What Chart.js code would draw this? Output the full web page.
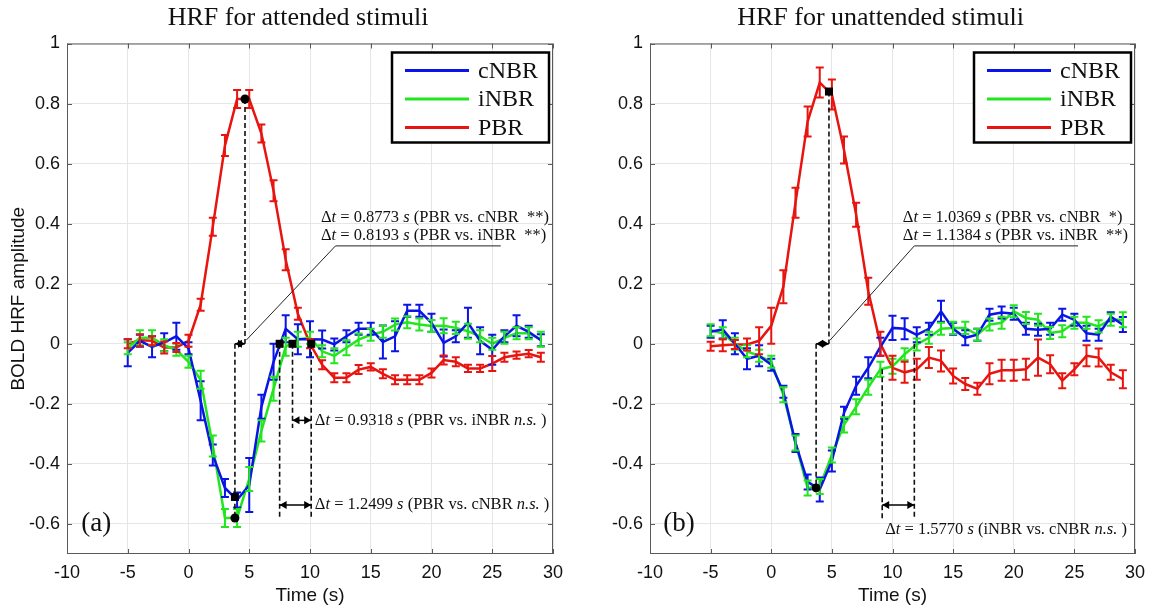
<!DOCTYPE html>
<html>
<head>
<meta charset="utf-8">
<script src="https://cdn.jsdelivr.net/npm/chart.js@4.4.1/dist/chart.umd.min.js"></script>
<style>
  body { margin: 0; background: #fff; width: 1157px; height: 609px; overflow: hidden; position: relative; }
  .panel { position: absolute; top: 0; height: 609px; }
  #pa { left: 0; width: 578px; }
  #pb { left: 578px; width: 579px; }
</style>
</head>
<body>
<div class="panel" id="pa"><canvas id="chartA"></canvas></div>
<div class="panel" id="pb"><canvas id="chartB"></canvas></div>
<script>
// time axis (s)
const times = [-5, -4, -3, -2, -1, 0, 1, 2, 3, 4, 5, 6, 7, 8, 9, 10, 11, 12, 13, 14,
               15, 16, 17, 18, 19, 20, 21, 22, 23, 24, 25, 26, 27, 28, 29];
const seriesNames = ['cNBR', 'iNBR', 'PBR'];
const seriesColors = ['#0a14e6', '#22e61e', '#e8140f'];
const xTicks = [-10, -5, 0, 5, 10, 15, 20, 25, 30];
const yTicks = [-0.6, -0.4, -0.2, 0, 0.2, 0.4, 0.6, 0.8, 1];

// (a) attended
const attCNBR = [-0.03, 0.01, -0.01, 0.005, 0.025, -0.015, -0.19, -0.37, -0.48, -0.52, -0.47, -0.21, -0.06, 0.05, 0.015,
                 0.015, 0.014, -0.002, 0.025, 0.05, 0.05, 0.006, 0.025, 0.11, 0.11, 0.07, 0.003, 0.025, 0.07, 0.01,
                 -0.02, 0.025, 0.06, 0.04, 0.012];
const attCNBRErr = [0.045, 0.02, 0.035, 0.03, 0.045, 0.02, 0.065, 0.035, 0.03, 0.025, 0.09, 0.04, 0.06, 0.045, 0.05,
                    0.06, 0.03, 0.02, 0.02, 0.02, 0.02, 0.055, 0.05, 0.02, 0.02, 0.03, 0.045, 0.02, 0.05, 0.045,
                    0.05, 0.02, 0.035, 0.02, 0.02];
const attINBR = [-0.015, 0.02, 0.02, -0.005, -0.02, -0.06, -0.12, -0.34, -0.58, -0.58, -0.45, -0.29, -0.15, -0.01, 0.015,
                 0.02, -0.025, -0.04, -0.013, 0.014, 0.03, 0.04, 0.064, 0.072, 0.064, 0.059, 0.06, 0.053, 0.042, 0.025,
                 0.0, 0.02, 0.035, 0.035, 0.015];
const attINBRErr = [0.02, 0.025, 0.025, 0.02, 0.02, 0.02, 0.03, 0.035, 0.03, 0.03, 0.04, 0.035, 0.04, 0.03, 0.025,
                    0.02, 0.02, 0.025, 0.025, 0.02, 0.02, 0.02, 0.02, 0.02, 0.02, 0.02, 0.025, 0.02, 0.025, 0.02,
                    0.02, 0.02, 0.02, 0.02, 0.025];
const attPBR = [0.0, 0.012, 0.01, -0.012, -0.012, 0.01, 0.13, 0.39, 0.66, 0.815, 0.815, 0.70, 0.51, 0.28, 0.10,
                0.0, -0.07, -0.113, -0.113, -0.086, -0.077, -0.1, -0.12, -0.12, -0.12, -0.097, -0.054, -0.06, -0.082, -0.082,
                -0.066, -0.045, -0.038, -0.033, -0.045];
const attPBRErr = [0.015, 0.02, 0.015, 0.02, 0.015, 0.02, 0.02, 0.03, 0.035, 0.03, 0.03, 0.03, 0.035, 0.035, 0.02,
                   0.015, 0.015, 0.015, 0.015, 0.015, 0.012, 0.015, 0.015, 0.015, 0.015, 0.015, 0.015, 0.015, 0.012, 0.012,
                   0.025, 0.015, 0.012, 0.012, 0.015];

// (b) unattended
const unCNBR = [0.04, 0.048, 0.0, -0.05, -0.04, -0.07, -0.16, -0.33, -0.46, -0.485, -0.39, -0.23, -0.14, -0.08, -0.01,
                0.053, 0.05, 0.03, 0.05, 0.108, 0.05, 0.02, 0.03, 0.097, 0.104, 0.1, 0.05, 0.047, 0.05, 0.097,
                0.08, 0.035, 0.03, 0.09, 0.064];
const unCNBRErr = [0.02, 0.03, 0.035, 0.035, 0.035, 0.02, 0.02, 0.03, 0.025, 0.04, 0.035, 0.02, 0.03, 0.035, 0.03,
                   0.04, 0.035, 0.025, 0.02, 0.035, 0.02, 0.025, 0.02, 0.02, 0.02, 0.02, 0.02, 0.02, 0.02, 0.02,
                   0.02, 0.025, 0.02, 0.015, 0.025];
const unINBR = [0.045, 0.035, 0.0, -0.025, -0.04, -0.06, -0.17, -0.33, -0.48, -0.475, -0.37, -0.27, -0.21, -0.145, -0.085,
                -0.075, -0.035, -0.002, 0.02, 0.05, 0.053, 0.053, 0.03, 0.064, 0.07, 0.108, 0.086, 0.08, 0.036, 0.042,
                0.07, 0.07, 0.058, 0.08, 0.08];
const unINBRErr = [0.02, 0.02, 0.02, 0.02, 0.02, 0.02, 0.025, 0.025, 0.025, 0.025, 0.025, 0.025, 0.025, 0.025, 0.025,
                   0.025, 0.02, 0.02, 0.02, 0.02, 0.02, 0.02, 0.02, 0.02, 0.02, 0.02, 0.02, 0.02, 0.02, 0.02,
                   0.02, 0.02, 0.02, 0.02, 0.025];
const unPBR = [-0.008, -0.005, -0.002, -0.002, 0.01, 0.06, 0.19, 0.47, 0.74, 0.87, 0.83, 0.645, 0.43, 0.175, 0.0,
               -0.08, -0.095, -0.085, -0.046, -0.057, -0.107, -0.134, -0.15, -0.1, -0.088, -0.088, -0.085, -0.046, -0.068, -0.123,
               -0.085, -0.04, -0.046, -0.095, -0.118];
const unPBRErr = [0.015, 0.02, 0.015, 0.02, 0.045, 0.06, 0.055, 0.05, 0.05, 0.05, 0.05, 0.045, 0.04, 0.045, 0.04,
                  0.04, 0.035, 0.035, 0.035, 0.035, 0.025, 0.02, 0.02, 0.035, 0.035, 0.035, 0.035, 0.06, 0.03, 0.025,
                  0.02, 0.035, 0.03, 0.025, 0.03];

// annotations, in data units (x in s, y in amplitude)
const attDashed = [[4.65, 0.815, 4.65, 0], [3.82, 0, 3.82, -0.585], [7.5, 0, 7.5, -0.585], [8.56, 0, 8.56, -0.28], [10.1, 0, 10.1, -0.585]];
const attArrows = [[3.82, 4.65, 0], [8.56, 10.1, -0.255], [7.5, 10.1, -0.537]];
const attDots = [[4.65, 0.815, 'c'], [3.82, -0.51, 's'], [3.82, -0.58, 'c'], [7.5, 0, 's'], [8.56, 0, 's'], [10.1, 0, 's']];
const attLeader = [[4.75, 0.012], [12.1, 0.326], [25.7, 0.326]];
const attNotes = [
  [10.9, 0.42, 'Δ_t_ = 0.8773 _s_ (PBR vs. cNBR  **)'],
  [10.9, 0.36, 'Δ_t_ = 0.8193 _s_ (PBR vs. iNBR  **)'],
  [10.4, -0.255, 'Δ_t_ = 0.9318 _s_ (PBR vs. iNBR _n.s._ )'],
  [10.4, -0.537, 'Δ_t_ = 1.2499 _s_ (PBR vs. cNBR _n.s._ )']
];

const unDashed = [[4.76, 0.84, 4.76, 0], [3.7, 0, 3.7, -0.48], [9.15, -0.085, 9.15, -0.585], [11.8, 0, 11.8, -0.585]];
const unArrows = [[3.7, 4.76, 0], [9.15, 11.8, -0.537]];
const unDots = [[4.76, 0.84, 's'], [3.7, -0.48, 'c']];
const unLeader = [[4.85, 0.012], [11.8, 0.326], [25.3, 0.326]];
const unNotes = [
  [10.85, 0.42, 'Δ_t_ = 1.0369 _s_ (PBR vs. cNBR  *)'],
  [10.85, 0.36, 'Δ_t_ = 1.1384 _s_ (PBR vs. iNBR  **)'],
  [9.4, -0.62, 'Δ_t_ = 1.5770 _s_ (iNBR vs. cNBR _n.s._ )']
];

const SANS = '"Liberation Sans", Arial, sans-serif';
const SERIF = '"Liberation Serif", "Times New Roman", serif';

function drawRich(ctx, x, y, str, size) {
  // segments between underscores are italic
  const parts = str.split('_');
  let cx = x;
  ctx.textBaseline = 'middle';
  ctx.textAlign = 'left';
  parts.forEach((p, i) => {
    ctx.font = (i % 2 ? 'italic ' : '') + size + 'px ' + SERIF;
    ctx.fillText(p, cx, y);
    cx += ctx.measureText(p).width;
  });
}

function arrowHead(ctx, x, y, dir) {
  ctx.beginPath();
  ctx.moveTo(x, y);
  ctx.lineTo(x - dir * 7, y - 4);
  ctx.lineTo(x - dir * 7, y + 4);
  ctx.closePath();
  ctx.fill();
}

const figurePlugin = {
  id: 'figure',
  afterDatasetsDraw(chart) {
    const ctx = chart.ctx;
    const xs = chart.scales.x, ys = chart.scales.y;
    const ca = chart.chartArea;
    const cfg = chart.options.plugins.figure;
    ctx.save();

    // error bars
    chart.data.datasets.forEach(ds => {
      ctx.strokeStyle = ds.borderColor;
      ctx.lineWidth = 2;
      ds.data.forEach((pt, i) => {
        const e = ds.errors[i];
        const px = xs.getPixelForValue(pt.x);
        const top = ys.getPixelForValue(pt.y + e), bot = ys.getPixelForValue(pt.y - e);
        ctx.beginPath();
        ctx.moveTo(px, top); ctx.lineTo(px, bot);
        ctx.moveTo(px - 4, top); ctx.lineTo(px + 4, top);
        ctx.moveTo(px - 4, bot); ctx.lineTo(px + 4, bot);
        ctx.stroke();
      });
    });

    // box + inward ticks
    ctx.strokeStyle = '#5a5a5a';
    ctx.lineWidth = 1;
    ctx.strokeRect(ca.left + 0.5, ca.top + 0.5, ca.width - 1, ca.height - 1);
    ctx.beginPath();
    xTicks.forEach(v => {
      const px = Math.round(xs.getPixelForValue(v)) + 0.5;
      ctx.moveTo(px, ca.bottom); ctx.lineTo(px, ca.bottom - 5);
      ctx.moveTo(px, ca.top); ctx.lineTo(px, ca.top + 5);
    });
    yTicks.forEach(v => {
      const py = Math.round(ys.getPixelForValue(v)) + 0.5;
      ctx.moveTo(ca.left, py); ctx.lineTo(ca.left + 5, py);
      ctx.moveTo(ca.right, py); ctx.lineTo(ca.right - 5, py);
    });
    ctx.stroke();

    // dashed guides
    ctx.strokeStyle = '#111';
    ctx.lineWidth = 1.6;
    ctx.setLineDash([5, 3]);
    cfg.dashed.forEach(d => {
      ctx.beginPath();
      ctx.moveTo(xs.getPixelForValue(d[0]), ys.getPixelForValue(d[1]));
      ctx.lineTo(xs.getPixelForValue(d[2]), ys.getPixelForValue(d[3]));
      ctx.stroke();
    });
    ctx.setLineDash([]);

    // leader line
    ctx.strokeStyle = '#222';
    ctx.lineWidth = 1;
    ctx.beginPath();
    cfg.leader.forEach((p, i) => {
      const px = xs.getPixelForValue(p[0]), py = ys.getPixelForValue(p[1]);
      if (i === 0) ctx.moveTo(px, py); else ctx.lineTo(px, py);
    });
    ctx.stroke();

    // double arrows
    ctx.fillStyle = '#000';
    ctx.strokeStyle = '#000';
    ctx.lineWidth = 1.5;
    cfg.arrows.forEach(a => {
      const x1 = xs.getPixelForValue(a[0]), x2 = xs.getPixelForValue(a[1]), py = ys.getPixelForValue(a[2]);
      ctx.beginPath(); ctx.moveTo(x1, py); ctx.lineTo(x2, py); ctx.stroke();
      arrowHead(ctx, x1, py, -1);
      arrowHead(ctx, x2, py, 1);
    });

    // marker dots
    cfg.dots.forEach(d => {
      const px = xs.getPixelForValue(d[0]), py = ys.getPixelForValue(d[1]);
      if (d[2] === 's') ctx.fillRect(px - 4, py - 4, 8, 8);
      else { ctx.beginPath(); ctx.arc(px, py, 4.5, 0, Math.PI * 2); ctx.fill(); }
    });

    // notes
    ctx.fillStyle = '#111';
    cfg.notes.forEach(n => drawRich(ctx, xs.getPixelForValue(n[0]), ys.getPixelForValue(n[1]), n[2], 16.5));

    // panel tag
    ctx.font = '27px ' + SERIF;
    ctx.textAlign = 'center';
    ctx.textBaseline = 'middle';
    ctx.fillText(cfg.tag, xs.getPixelForValue(-7.6), ys.getPixelForValue(-0.6));

    // legend box
    const lx = ca.right - 161, ly = ca.top + 9, lw = 157, lh = 90;
    ctx.fillStyle = '#fff';
    ctx.fillRect(lx, ly, lw, lh);
    ctx.strokeStyle = '#000';
    ctx.lineWidth = 2.5;
    ctx.strokeRect(lx, ly, lw, lh);
    chart.data.datasets.forEach((ds, i) => {
      const yy = ly + 18 + i * 28.5;
      ctx.strokeStyle = ds.borderColor;
      ctx.lineWidth = 3;
      ctx.beginPath(); ctx.moveTo(lx + 13, yy); ctx.lineTo(lx + 77, yy); ctx.stroke();
      ctx.fillStyle = '#111';
      ctx.font = '24px ' + SERIF;
      ctx.textAlign = 'left';
      ctx.fillText(ds.label, lx + 86, yy + 1);
    });

    // title
    ctx.fillStyle = '#111';
    ctx.font = '26px ' + SERIF;
    ctx.textAlign = 'center';
    ctx.textBaseline = 'alphabetic';
    ctx.fillText(cfg.title, (ca.left + ca.right) / 2 - 12, 25);

    ctx.restore();
  }
};

function makeDatasets(vals, errs) {
  return vals.map((v, k) => ({
    label: seriesNames[k],
    data: times.map((t, i) => ({ x: t, y: v[i] })),
    errors: errs[k],
    borderColor: seriesColors[k],
    borderWidth: 2.5,
    pointRadius: 0,
    tension: 0,
    fill: false
  }));
}

function makeChart(id, vals, errs, fig, yWidth, rightPad, yTitle) {
  const tickFont = { family: SANS, size: 18 };
  return new Chart(document.getElementById(id), {
    type: 'line',
    data: { datasets: makeDatasets(vals, errs) },
    options: {
      responsive: true,
      maintainAspectRatio: false,
      animation: false,
      layout: { padding: { top: 43.5, right: rightPad, left: 0, bottom: 0 } },
      plugins: { legend: { display: false }, tooltip: { enabled: false }, figure: fig },
      scales: {
        x: {
          type: 'linear', min: -10, max: 30,
          afterBuildTicks: s => { s.ticks = xTicks.map(v => ({ value: v })); },
          ticks: { font: tickFont, color: '#111', padding: 8, maxRotation: 0, callback: v => String(v) },
          grid: { color: '#e6e6e6', drawTicks: false },
          border: { display: false },
          title: { display: true, text: 'Time (s)', font: { family: SANS, size: 19 }, color: '#111', padding: { top: 0, bottom: 2 } },
          afterFit: s => { s.height = 55; }
        },
        y: {
          min: -0.7, max: 1,
          afterBuildTicks: s => { s.ticks = yTicks.map(v => ({ value: v })); },
          ticks: { font: tickFont, color: '#111', padding: 7, callback: v => String(v) },
          grid: { color: '#e6e6e6', drawTicks: false },
          border: { display: false },
          title: { display: !!yTitle, text: yTitle || '', font: { family: SANS, size: 19 }, color: '#111', padding: { top: 7, bottom: 0 } },
          afterFit: s => { s.width = yWidth; }
        }
      }
    },
    plugins: [figurePlugin]
  });
}

makeChart('chartA', [attCNBR, attINBR, attPBR], [attCNBRErr, attINBRErr, attPBRErr], {
  title: 'HRF for attended stimuli', tag: '(a)',
  dashed: attDashed, arrows: attArrows, dots: attDots, leader: attLeader, notes: attNotes
}, 67, 25, 'BOLD HRF amplitude');

makeChart('chartB', [unCNBR, unINBR, unPBR], [unCNBRErr, unINBRErr, unPBRErr], {
  title: 'HRF for unattended stimuli', tag: '(b)',
  dashed: unDashed, arrows: unArrows, dots: unDots, leader: unLeader, notes: unNotes
}, 72, 22, '');
</script>
</body>
</html>
